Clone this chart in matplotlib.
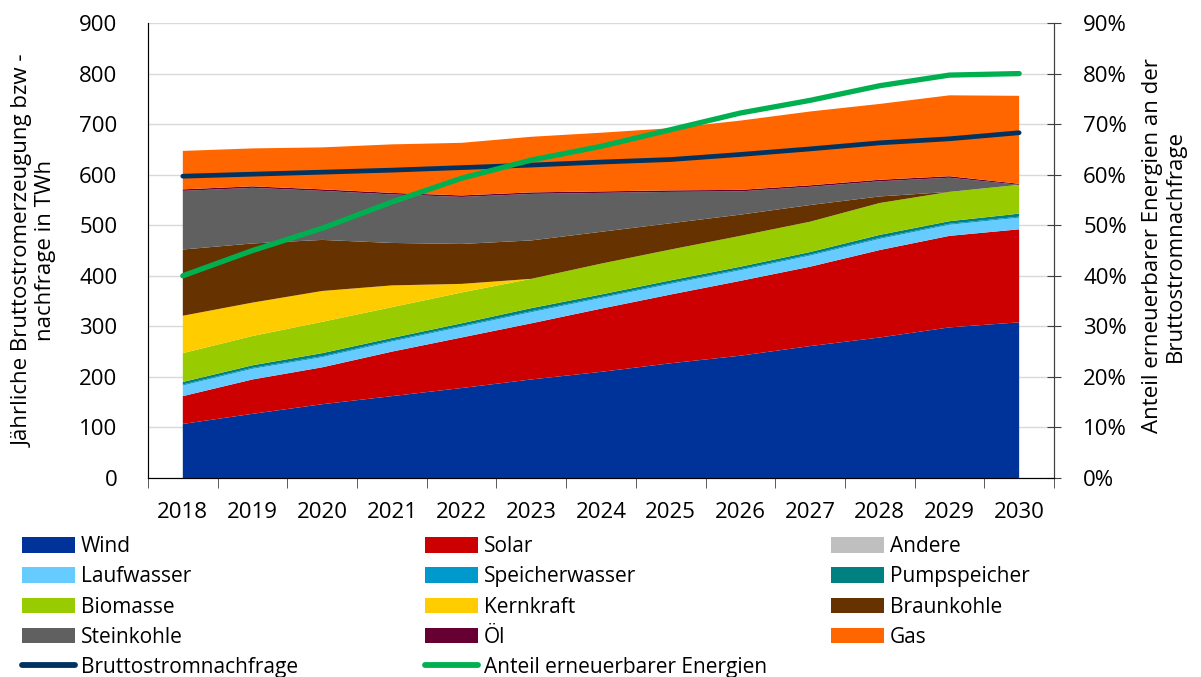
import matplotlib
matplotlib.use("Agg")
import matplotlib.pyplot as plt
import numpy as np
from matplotlib.patches import Patch
from matplotlib.lines import Line2D
from matplotlib.ticker import FuncFormatter, MultipleLocator

plt.rcParams['font.family'] = ['Open Sans', 'DejaVu Sans']

jahre = [2018, 2019, 2020, 2021, 2022, 2023, 2024, 2025, 2026, 2027, 2028, 2029, 2030]

# Erzeugung in TWh
wind = [107, 127, 146, 162, 178, 195, 210, 227, 242, 261, 278, 298, 308]
solar = [55, 68, 73, 88, 100, 111, 125, 136, 148, 157, 173, 181, 184]
andere = [0, 0, 0, 0, 0, 0, 0, 0, 0, 0, 0, 0, 0]
laufwasser = [21, 21, 20, 20, 21, 22, 21, 21, 21, 22, 22, 22, 23]
speicherwasser = [2, 2, 2, 2, 2, 2, 2, 2, 2, 2, 2, 2, 2]
pumpspeicher = [5, 5, 6, 5, 5, 6, 5, 5, 5, 5, 6, 5, 6]
biomasse = [57, 58, 62, 61, 61, 58, 61, 61, 61, 60, 63, 58, 57]
kernkraft = [74, 66, 61, 43, 17, 0, 0, 0, 0, 0, 0, 0, 0]
braunkohle = [131, 117, 101, 84, 79, 76, 63, 52, 42, 33, 13, 0, 0]
steinkohle = [116, 110, 97, 96, 93, 92, 77, 62, 46, 36, 30, 28, 0]
oel = [3, 3, 3, 3, 3, 3, 3, 3, 3, 3, 3, 3, 2]
gas = [76, 75, 83, 96, 104, 110, 116, 123, 137, 146, 150, 160, 174]

nachfrage = [597, 601, 605, 609, 614, 619, 625, 630, 640, 651, 663, 671, 683]
anteil_ee = [40, 45, 49.4, 54.6, 59.3, 62.9, 65.6, 68.9, 72.2, 74.7, 77.6, 79.7, 80]

namen = ['Wind', 'Solar', 'Andere', 'Laufwasser', 'Speicherwasser', 'Pumpspeicher',
         'Biomasse', 'Kernkraft', 'Braunkohle', 'Steinkohle', 'Öl', 'Gas']
reihen = [wind, solar, andere, laufwasser, speicherwasser, pumpspeicher,
          biomasse, kernkraft, braunkohle, steinkohle, oel, gas]
farben = ['#003399', '#CC0000', '#BFBFBF', '#66CCFF', '#0099CC', '#008080',
          '#99CC00', '#FFCC00', '#663300', '#606060', '#660033', '#FF6600']
farbe_nachfrage = '#003360'
farbe_ee = '#00B050'

fig = plt.figure(figsize=(12.01, 6.77), dpi=100)
ax = fig.add_axes([0.1232, 0.2939, 0.7544, 0.6721])

ax.stackplot(jahre, *reihen, colors=farben, linewidth=0)
ax.plot(jahre, nachfrage, color=farbe_nachfrage, lw=3.4, solid_capstyle='round', zorder=5)

ax.set_xlim(2017.5, 2030.5)
ax.set_ylim(0, 900)
ax.yaxis.set_major_locator(MultipleLocator(100))
ax.set_xticks(jahre)
ax.set_xticks(np.arange(2017.5, 2031, 1), minor=True)
ax.tick_params(axis='x', which='major', length=0, labelsize=16, pad=17)
ax.tick_params(axis='x', which='minor', length=7, direction='out', color='#404040')
ax.tick_params(axis='y', length=0, labelsize=16, pad=22)
ax.grid(axis='y', color='#D9D9D9', lw=1)
ax.set_axisbelow(True)
ax.spines['top'].set_visible(False)
for s in ['left', 'right', 'bottom']:
    ax.spines[s].set_color('#404040')
ax.set_ylabel('Jährliche Bruttostromerzeugung bzw -\nnachfrage in TWh', fontsize=16,
              linespacing=1.1)
ax.yaxis.set_label_coords(-0.101, 0.5)

ax2 = ax.twinx()
ax2.plot(jahre, anteil_ee, color=farbe_ee, lw=3.8, solid_capstyle='round', zorder=6)
ax2.set_ylim(0, 90)
ax2.yaxis.set_major_locator(MultipleLocator(10))
ax2.yaxis.set_major_formatter(FuncFormatter(lambda v, p: f'{v:.0f}%'))
ax2.tick_params(axis='y', length=10, direction='inout', labelsize=16, pad=16, color='#404040')
ax2.spines['top'].set_visible(False)
ax2.spines['right'].set_color('#404040')
ax2.set_ylabel('Anteil erneuerbarer Energien an der\nBruttostromnachfrage', fontsize=16,
               linespacing=1.1, rotation=90)
ax2.yaxis.set_label_coords(1.097, 0.51)

# Legende in drei Spalten
def griff(name):
    i = namen.index(name)
    return Patch(facecolor=farben[i], edgecolor='none')

spalten = [
    (0.018, ['Wind', 'Laufwasser', 'Biomasse', 'Steinkohle'], 'Bruttostromnachfrage', farbe_nachfrage),
    (0.354, ['Solar', 'Speicherwasser', 'Kernkraft', 'Öl'], 'Anteil erneuerbarer Energien', farbe_ee),
    (0.692, ['Andere', 'Pumpspeicher', 'Braunkohle', 'Gas'], None, None),
]
for x0, eintraege, linie, lfarbe in spalten:
    h = [griff(n) for n in eintraege]
    l = list(eintraege)
    if linie:
        h.append(Line2D([0], [0], color=lfarbe, lw=4.2, solid_capstyle='round'))
        l.append(linie)
    fig.legend(h, l, loc='upper left', bbox_to_anchor=(x0, 0.208), frameon=False,
               fontsize=15, handlelength=2.55, handleheight=0.75, handletextpad=0.28,
               labelspacing=0.44, borderpad=0, borderaxespad=0)

fig.savefig('out.png', dpi=100)
